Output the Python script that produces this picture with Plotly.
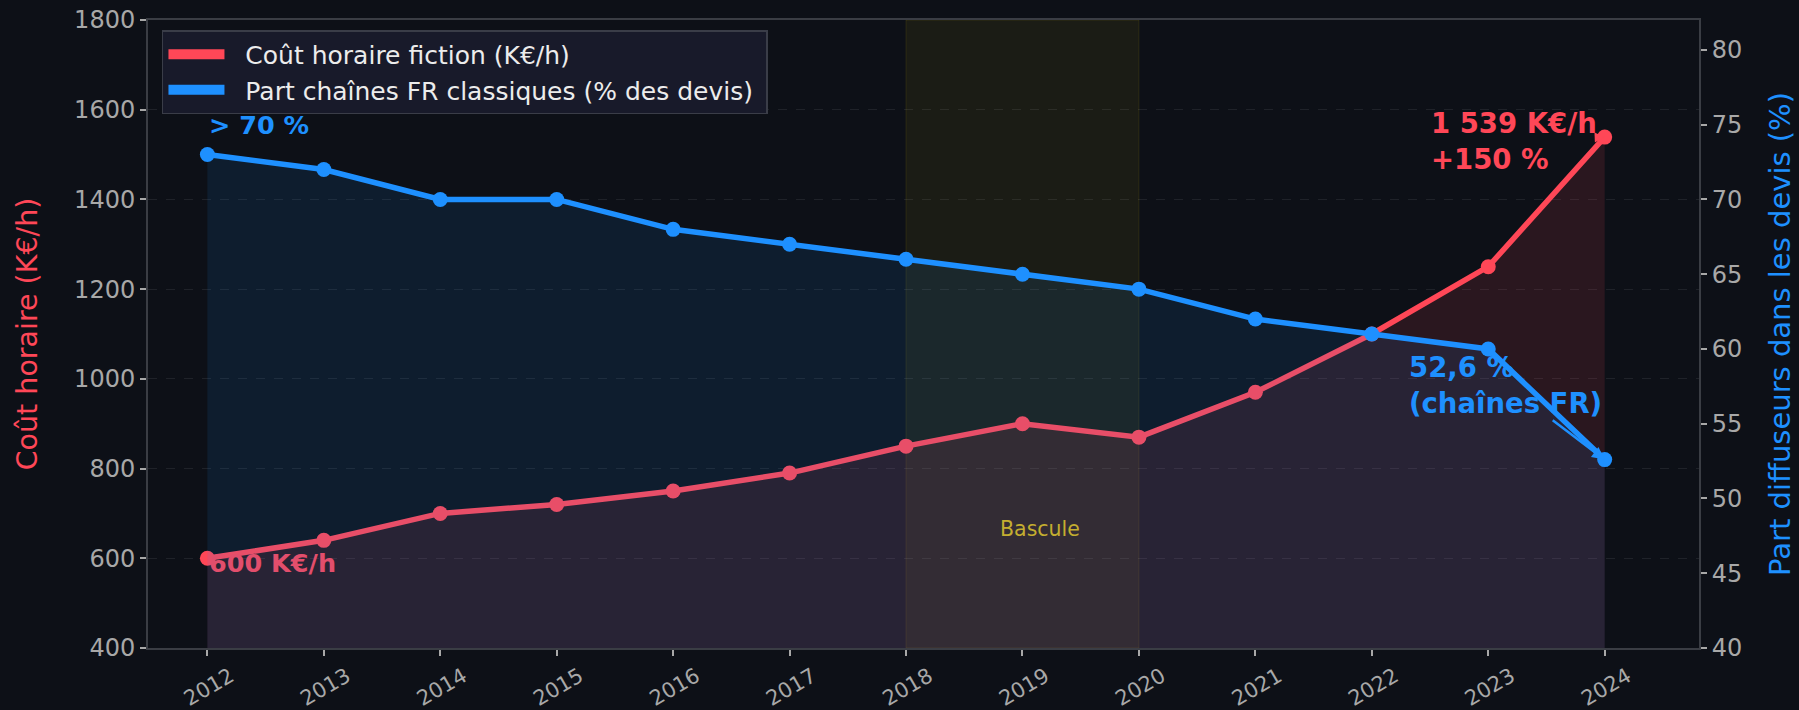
import plotly.graph_objects as go

years = [2012, 2013, 2014, 2015, 2016, 2017, 2018, 2019, 2020, 2021, 2022, 2023, 2024]
year_labels = [str(y) for y in years]
cost_kEUR_h = [600, 640, 700, 720, 750, 790, 850, 900, 870, 970, 1100, 1250, 1539]
share_fr_pct = [73, 72, 70, 70, 68, 67, 66, 65, 64, 62, 61, 60, 52.6]
left_ticks = [400, 600, 800, 1000, 1200, 1400, 1600, 1800]
right_ticks = [40, 45, 50, 55, 60, 65, 70, 75, 80]

RED = "#FF4757"
BLUE = "#1E90FF"
BG = "#0d1017"
FONT = "DejaVu Sans"
TICKC = "#a8a8a8"
SPINE = "#3a3d44"
NB = "\u00a0"

fig = go.Figure()

# Cost series (primary axis) with fill
fig.add_trace(go.Scatter(
    x=years, y=cost_kEUR_h, mode="lines+markers",
    line=dict(color=RED, width=5.5), marker=dict(color=RED, size=15),
    fill="tozeroy", fillcolor="rgba(255,71,87,0.12)",
    showlegend=False, yaxis="y", hoverinfo="skip"))

# Share series (secondary axis) with fill
fig.add_trace(go.Scatter(
    x=years, y=share_fr_pct, mode="lines+markers",
    line=dict(color=BLUE, width=5.5), marker=dict(color=BLUE, size=15),
    fill="tozeroy", fillcolor="rgba(30,144,255,0.10)",
    showlegend=False, yaxis="y2", hoverinfo="skip"))

# Legend entries (patch-like)
fig.add_trace(go.Scatter(x=[None], y=[None], mode="lines", name=NB * 2 + "Coût horaire fiction (K€/h)",
                         line=dict(color=RED, width=20)))
fig.add_trace(go.Scatter(x=[None], y=[None], mode="lines", name=NB * 2 + "Part chaînes FR classiques (% des devis)" + NB,
                         line=dict(color=BLUE, width=20)))

# Bascule band
fig.add_shape(type="rect", xref="x", yref="paper", x0=2018, x1=2020, y0=0, y1=1,
              fillcolor="rgba(255,215,0,0.06)", line=dict(color="rgba(255,215,0,0.10)", width=1),
              layer="below")

annotations = [
    dict(x=2019.15, y=665, xref="x", yref="y", text="Bascule", showarrow=False,
         font=dict(family=FONT, size=20.5, color="#c4ae30")),
    dict(x=2012, y=75, xref="x", yref="y2", text="<b>&gt; 70 %</b>", showarrow=False,
         xanchor="left", yanchor="middle", font=dict(family=FONT, size=25.5, color=BLUE)),
    dict(x=2012, y=590, xref="x", yref="y", text="<b>600 K€/h</b>", showarrow=False,
         xanchor="left", yanchor="middle", font=dict(family=FONT, size=25.5, color="#E24E6C")),
    dict(x=2024, y=1539, xref="x", yref="y", ax=2023.22, ay=1531, axref="x", ayref="y",
         text="<b>1 539 K€/h<br>+150 %</b>", align="left", showarrow=True,
         arrowhead=2, arrowsize=1, arrowwidth=2, arrowcolor=RED,
         font=dict(family=FONT, size=27.5, color=RED)),
    dict(x=2024, y=52.6, xref="x", yref="y2", ax=2023.15, ay=57.6, axref="x", ayref="y2",
         text="<b>52,6 %<br>(chaînes FR)</b>", align="left", showarrow=True,
         arrowhead=2, arrowsize=1, arrowwidth=2.5, arrowcolor=BLUE,
         font=dict(family=FONT, size=27.5, color=BLUE)),
]

fig.update_layout(
    width=1799, height=710,
    paper_bgcolor=BG, plot_bgcolor=BG,
    margin=dict(l=148, r=100, t=20, b=62, autoexpand=False),
    font=dict(family=FONT, color=TICKC),
    xaxis=dict(range=[2011.49, 2024.81], tickmode="array", tickvals=years, ticktext=year_labels,
               tickangle=-30, ticks="outside", ticklen=6, tickcolor=TICKC, tickwidth=1.5,
               tickfont=dict(size=21, color=TICKC, family=FONT), ticklabelshift=23,
               showline=True, linecolor=SPINE, linewidth=2, mirror=True,
               showgrid=False, zeroline=False),
    yaxis=dict(range=[400, 1800], tickmode="array", tickvals=left_ticks,
               ticks="outside", ticklen=6, tickcolor=TICKC, tickwidth=1.5,
               tickfont=dict(size=24, color=TICKC, family=FONT),
               showline=True, linecolor=SPINE, linewidth=2,
               showgrid=True, gridcolor="rgba(255,255,255,0.08)", griddash="dash", gridwidth=1,
               zeroline=False,
               title=dict(text="Coût horaire (K€/h)", font=dict(size=28.5, color=RED, family=FONT), standoff=28)),
    yaxis2=dict(range=[40, 82], overlaying="y", side="right", tickmode="array", tickvals=right_ticks,
                ticks="outside", ticklen=6, tickcolor=TICKC, tickwidth=1.5,
                tickfont=dict(size=24, color=TICKC, family=FONT),
                showline=True, linecolor=SPINE, linewidth=2,
                showgrid=False, zeroline=False,
                title=dict(text="Part diffuseurs dans les devis (%)", font=dict(size=29, color=BLUE, family=FONT), standoff=28)),
    legend=dict(x=0.009, y=0.984, xanchor="left", yanchor="top",
                bgcolor="#181a2a", bordercolor="#3a3d48", borderwidth=1.5,
                font=dict(size=25, color="#ececec", family=FONT), itemwidth=56,
                tracegroupgap=0),
    annotations=annotations,
    showlegend=True,
)

fig.write_html("out.html", config={"displayModeBar": False},
               post_script="document.body.style.margin='0px';document.body.style.overflow='hidden';")
